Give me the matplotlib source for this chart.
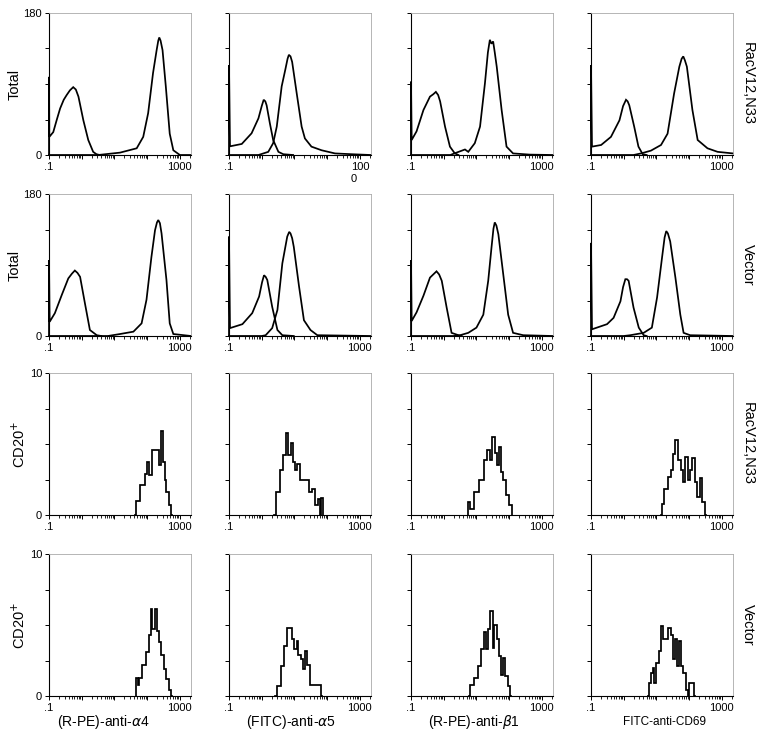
import matplotlib
matplotlib.use("Agg")
import matplotlib.pyplot as plt
import numpy as np
from matplotlib.ticker import FixedLocator, LogLocator, NullFormatter

plt.rcParams.update({
    "font.family": ["Liberation Sans", "DejaVu Sans"],
    "font.size": 8,
})

# --- data: x values are log10(fluorescence), y values are cell counts ---
col_labels = ["(R-PE)-anti-$\\alpha$4", "(FITC)-anti-$\\alpha$5",
              "(R-PE)-anti-$\\beta$1", "FITC-anti-CD69"]
row_labels = ["RacV12,N33", "Vector", "RacV12,N33", "Vector"]
row_ylabels = ["Total", "Total", "CD20$^{+}$", "CD20$^{+}$"]
row_ymax = [180, 180, 10, 10]

# row 1: RacV12,N33, total cells (isotype control + stained)
rac_a4_iso_x = [-1.0, -1.0, -0.99, -0.93, -0.87, -0.76, -0.66, -0.55, -0.46, -0.36, -0.26, -0.18, -0.10, 0.05, 0.20, 0.35, 0.45, 0.55]
rac_a4_iso_y = [0, 99, 23, 26, 29, 45, 59, 70, 76, 82, 86, 83, 74, 44, 19, 4, 1, 0]
rac_a4_pos_x = [-1.0, 0.5, 1.17, 1.68, 1.88, 2.03, 2.18, 2.29, 2.34, 2.37, 2.41, 2.47, 2.57, 2.69, 2.80, 3.0, 3.34]
rac_a4_pos_y = [0, 0, 3, 8.5, 23, 53, 104, 133, 145, 149, 145, 133, 87, 27, 6, 0, 0]

rac_a5_iso_x = [-1.0, -1.0, -0.97, -0.61, -0.31, -0.10, 0.0, 0.06, 0.11, 0.15, 0.25, 0.35, 0.51, 0.66, 0.96]
rac_a5_iso_y = [0, 114, 11, 14, 27.5, 46.5, 62, 70, 68, 63, 40, 19, 4, 1, 0]
rac_a5_pos_x = [-1.0, -0.1, 0.20, 0.35, 0.46, 0.61, 0.72, 0.79, 0.83, 0.88, 0.93, 1.07, 1.22, 1.32, 1.52, 1.83, 2.24, 2.75, 3.34]
rac_a5_pos_y = [0, 0, 4, 15, 36, 87, 108, 122, 127, 125, 118, 78, 36, 21, 10.6, 6, 2, 1, 0]

rac_b1_iso_x = [-1.0, -1.0, -0.98, -0.83, -0.62, -0.42, -0.32, -0.24, -0.17, -0.11, 0.04, 0.19, 0.34, 0.45]
rac_b1_iso_y = [0, 93, 19, 30, 57, 74, 77, 80, 76, 68, 36, 10.6, 2, 0]
rac_b1_pos_x = [-1.0, 0.2, 0.39, 0.65, 0.75, 0.95, 1.11, 1.26, 1.35, 1.41, 1.46, 1.51, 1.56, 1.62, 1.77, 1.92, 2.12, 2.63, 3.34]
rac_b1_pos_y = [0, 0, 3, 7, 4, 15, 36, 91, 130, 146, 141, 144, 130, 112, 57, 10.6, 2, 0.5, 0]

rac_cd69_iso_x = [-1.0, -1.0, -0.97, -0.69, -0.39, -0.13, -0.02, 0.07, 0.12, 0.17, 0.32, 0.45, 0.58, 0.7]
rac_cd69_iso_y = [0, 114, 10.6, 12.7, 23, 44, 62, 70, 68, 63, 36, 10.6, 1, 0]
rac_cd69_pos_x = [-1.0, 0.3, 0.53, 0.83, 1.14, 1.34, 1.54, 1.70, 1.77, 1.82, 1.87, 1.93, 2.10, 2.26, 2.56, 2.87, 3.34]
rac_cd69_pos_y = [0, 0, 2, 5.5, 12.7, 27, 78, 112, 122, 125, 120, 112, 57, 19, 8.5, 4, 2]

# row 2: Vector, total cells
vec_a4_iso_x = [-1.0, -1.0, -0.98, -0.82, -0.61, -0.41, -0.30, -0.21, -0.13, -0.05, 0.10, 0.25, 0.46, 0.6]
vec_a4_iso_y = [0, 96, 18, 29, 52, 73, 79, 83, 80, 75, 41, 7.6, 1, 0]
vec_a4_pos_x = [-1.0, 0.8, 1.17, 1.58, 1.83, 1.98, 2.13, 2.24, 2.30, 2.34, 2.39, 2.44, 2.59, 2.69, 2.80, 3.34]
vec_a4_pos_y = [0, 0, 2.5, 5.5, 16, 46, 100, 134, 144, 147, 143, 130, 71, 16, 2.5, 0]

vec_a5_iso_x = [-1.0, -1.0, -0.97, -0.59, -0.29, -0.08, 0.01, 0.07, 0.12, 0.17, 0.32, 0.48, 0.63, 0.98]
vec_a5_iso_y = [0, 126, 10, 15, 29, 50, 68, 77, 75, 71, 37, 7.6, 1, 0]
vec_a5_pos_x = [-1.0, 0.0, 0.12, 0.32, 0.48, 0.63, 0.78, 0.84, 0.88, 0.93, 0.98, 1.14, 1.29, 1.49, 1.70, 3.34]
vec_a5_pos_y = [0, 0, 1, 10, 33, 92, 126, 132, 130, 124, 113, 63, 20, 7.6, 1, 0]

vec_b1_iso_x = [-1.0, -1.0, -0.98, -0.83, -0.62, -0.42, -0.32, -0.22, -0.14, -0.06, 0.09, 0.24, 0.45, 0.55]
vec_b1_iso_y = [0, 96, 19, 30, 51, 74, 78, 82, 78, 70, 36, 4, 1, 0]
vec_b1_pos_x = [-1.0, 0.3, 0.50, 0.75, 1.00, 1.21, 1.36, 1.46, 1.52, 1.56, 1.61, 1.67, 1.82, 1.97, 2.12, 2.43, 3.34]
vec_b1_pos_y = [0, 0, 1, 4, 10.6, 27, 70, 112, 136, 144, 140, 129, 78, 27, 4, 1, 0]

vec_cd69_iso_x = [-1.0, -1.0, -0.97, -0.51, -0.31, -0.10, -0.02, 0.05, 0.10, 0.15, 0.30, 0.46, 0.61, 0.7]
vec_cd69_iso_y = [0, 118, 8.5, 15, 23, 44, 62, 72, 72, 70, 36, 10.6, 1, 0]
vec_cd69_pos_x = [-1.0, 0.0, 0.20, 0.61, 0.86, 1.02, 1.17, 1.25, 1.30, 1.35, 1.42, 1.58, 1.73, 1.83, 2.03, 3.34]
vec_cd69_pos_y = [0, 0, 1, 4, 10.6, 49, 99, 125, 133, 130, 120, 74, 27, 4, 1, 0]

# row 3: RacV12,N33, CD20+ cells
rac_cd20_a4_x = [1.63, 1.70, 1.86, 1.98, 2.03, 2.10, 2.17, 2.34, 2.39, 2.46, 2.52, 2.56, 2.62, 2.69, 2.75]
rac_cd20_a4_y = [0, 1.0, 2.1, 2.9, 3.7, 2.8, 4.6, 4.6, 3.5, 5.9, 3.7, 2.5, 1.6, 0.7, 0]
rac_cd20_a5_x = [0.37, 0.48, 0.61, 0.71, 0.78, 0.85, 0.91, 0.98, 1.04, 1.14, 1.19, 1.39, 1.49, 1.60, 1.67, 1.75, 1.80, 1.85, 1.87]
rac_cd20_a5_y = [0, 1.6, 3.2, 4.2, 5.8, 4.2, 5.1, 3.7, 3.2, 3.6, 2.5, 2.5, 1.6, 1.8, 0.7, 1.1, 0, 1.2, 0]
rac_cd20_b1_x = [0.73, 0.78, 0.85, 0.98, 1.14, 1.29, 1.36, 1.44, 1.51, 1.60, 1.65, 1.72, 1.78, 1.85, 1.95, 2.05, 2.10]
rac_cd20_b1_y = [0, 0.9, 0.4, 1.6, 2.5, 3.9, 4.6, 3.9, 5.5, 4.4, 3.5, 4.8, 3.0, 2.5, 1.4, 0.7, 0]
rac_cd20_cd69_x = [1.14, 1.19, 1.29, 1.39, 1.49, 1.54, 1.62, 1.70, 1.77, 1.85, 1.92, 1.98, 2.05, 2.12, 2.21, 2.29, 2.36, 2.44, 2.53]
rac_cd20_cd69_y = [0, 0.8, 1.8, 2.7, 3.2, 4.3, 5.3, 3.9, 3.2, 2.3, 4.1, 2.5, 3.2, 4.0, 2.3, 1.3, 2.6, 0.9, 0]

# row 4: Vector, CD20+ cells
vec_cd20_a4_x = [1.66, 1.68, 1.73, 1.78, 1.90, 2.00, 2.08, 2.13, 2.19, 2.26, 2.34, 2.39, 2.46, 2.54, 2.62, 2.69, 2.75]
vec_cd20_a4_y = [0, 1.3, 0.8, 1.3, 2.2, 3.1, 4.3, 6.1, 4.7, 6.1, 4.6, 3.8, 2.9, 1.9, 1.2, 0.4, 0]
vec_cd20_a5_x = [0.40, 0.53, 0.63, 0.75, 0.81, 0.91, 0.96, 1.04, 1.09, 1.14, 1.24, 1.30, 1.36, 1.42, 1.54, 1.80, 1.85]
vec_cd20_a5_y = [0, 0.7, 2.1, 3.5, 4.8, 4.8, 4.0, 3.3, 3.9, 2.9, 2.6, 1.9, 3.2, 2.2, 0.8, 0.8, 0]
vec_cd20_b1_x = [0.78, 0.83, 0.98, 1.09, 1.19, 1.26, 1.32, 1.39, 1.46, 1.52, 1.58, 1.65, 1.72, 1.78, 1.83, 1.90, 2.00, 2.07]
vec_cd20_b1_y = [0, 0.8, 1.3, 2.1, 3.3, 4.5, 3.3, 4.7, 6.0, 3.4, 5.0, 4.0, 2.8, 1.5, 2.7, 1.4, 0.7, 0]
vec_cd20_cd69_x = [0.75, 0.78, 0.86, 0.91, 0.96, 1.04, 1.11, 1.17, 1.24, 1.32, 1.39, 1.47, 1.54, 1.61, 1.67, 1.72, 1.77, 1.85, 1.93, 1.98, 2.03, 2.13, 2.18]
vec_cd20_cd69_y = [0, 0.9, 1.6, 2.0, 0.9, 2.3, 3.2, 4.9, 4.0, 4.0, 4.8, 4.3, 2.6, 4.0, 2.1, 3.9, 2.1, 1.6, 0.4, 0, 0.9, 0.9, 0]

panels = [
    [[(rac_a4_iso_x, rac_a4_iso_y), (rac_a4_pos_x, rac_a4_pos_y)],
     [(rac_a5_iso_x, rac_a5_iso_y), (rac_a5_pos_x, rac_a5_pos_y)],
     [(rac_b1_iso_x, rac_b1_iso_y), (rac_b1_pos_x, rac_b1_pos_y)],
     [(rac_cd69_iso_x, rac_cd69_iso_y), (rac_cd69_pos_x, rac_cd69_pos_y)]],
    [[(vec_a4_iso_x, vec_a4_iso_y), (vec_a4_pos_x, vec_a4_pos_y)],
     [(vec_a5_iso_x, vec_a5_iso_y), (vec_a5_pos_x, vec_a5_pos_y)],
     [(vec_b1_iso_x, vec_b1_iso_y), (vec_b1_pos_x, vec_b1_pos_y)],
     [(vec_cd69_iso_x, vec_cd69_iso_y), (vec_cd69_pos_x, vec_cd69_pos_y)]],
    [[(rac_cd20_a4_x, rac_cd20_a4_y)], [(rac_cd20_a5_x, rac_cd20_a5_y)],
     [(rac_cd20_b1_x, rac_cd20_b1_y)], [(rac_cd20_cd69_x, rac_cd20_cd69_y)]],
    [[(vec_cd20_a4_x, vec_cd20_a4_y)], [(vec_cd20_a5_x, vec_cd20_a5_y)],
     [(vec_cd20_b1_x, vec_cd20_b1_y)], [(vec_cd20_cd69_x, vec_cd20_cd69_y)]],
]

# layout in pixels
W, H = 764, 739
lefts = [49, 229, 411, 591]
tops = [13, 194, 373, 554]
size = 142
xlabel_cx = [103, 291, 474, 664]   # label centres as placed in the original
xlabel_fs = [10, 10, 10, 8.5]

fig = plt.figure(figsize=(W / 100, H / 100), dpi=100)

for r in range(4):
    for c in range(4):
        ax = fig.add_axes([lefts[c] / W, 1 - (tops[r] + size) / H, size / W, size / H])
        for lx, yy in panels[r][c]:
            ds = "steps-mid" if r >= 2 else "default"
            ax.plot(10 ** np.array(lx), yy, color="black", lw=1.25, drawstyle=ds,
                    solid_joinstyle="miter", clip_on=False)
        ax.set_xscale("log")
        ax.set_xlim(0.1, 10 ** 3.34)
        ax.set_ylim(0, row_ymax[r])

        ax.xaxis.set_major_locator(FixedLocator([0.1, 1, 10, 100, 1000]))
        ax.xaxis.set_minor_locator(LogLocator(base=10, subs=np.arange(2, 10)))
        ax.xaxis.set_minor_formatter(NullFormatter())
        ax.set_xticklabels([".1", "", "", "", "1000"])
        if r == 0 and c == 1:
            ax.set_xticklabels([".1", "", "", "", "100\n0"])
            for t in ax.get_xticklabels():
                t.set_multialignment("left")

        ymax = row_ymax[r]
        ax.set_yticks([0, ymax / 4, ymax / 2, 3 * ymax / 4, ymax])
        if c == 0:
            ax.set_yticklabels(["0", "", "", "", str(ymax)])
            ax.set_ylabel(row_ylabels[r], fontsize=10.5, labelpad=1)
        else:
            ax.set_yticklabels([])

        ax.tick_params(axis="both", which="major", direction="out", length=3,
                       width=0.7, labelsize=8, pad=2)
        ax.tick_params(axis="x", which="minor", direction="out", length=2.5, width=0.6)

        for s in ("top", "right"):
            ax.spines[s].set_color("#aaaaaa")
            ax.spines[s].set_linewidth(0.6)
        for s in ("left", "bottom"):
            ax.spines[s].set_linewidth(0.8)

    fig.text(748 / W, 1 - (tops[r] + size / 2) / H, row_labels[r], rotation=270,
             ha="center", va="center", fontsize=10.5)

for c in range(4):
    fig.text(xlabel_cx[c] / W, 1 - 722 / H, col_labels[c], ha="center", va="center",
             fontsize=xlabel_fs[c])

fig.savefig("out.png", dpi=100, facecolor="white")
